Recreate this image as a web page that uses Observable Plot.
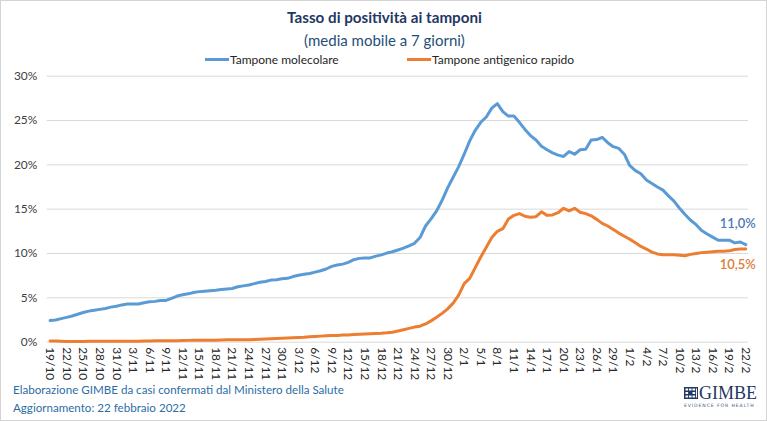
<!DOCTYPE html>
<html>
<head>
<meta charset="utf-8">
<script src="https://cdn.jsdelivr.net/npm/d3@7"></script>
<script src="https://cdn.jsdelivr.net/npm/@observablehq/plot@0.6"></script>
<style>
  html, body { margin: 0; padding: 0; background: #fff; }
  #card {
    position: relative; width: 767px; height: 421px; box-sizing: border-box;
    border: 1px solid #d4d4d4; background: #fff; overflow: hidden;
    font-family: Lato, "Open Sans", sans-serif;
  }
  #card svg.plot { position: absolute; left: -1px; top: -1px; }
  .title { position: absolute; left: 0; width: 767px; text-align: center; top: 7px;
    font-size: 15.2px; font-weight: bold; color: #1f3864; }
  .subtitle { position: absolute; left: 0; width: 767px; text-align: center; top: 30px;
    font-size: 15px; color: #1f4e79; }
  .legend { position: absolute; top: 51px; font-size: 12px; color: #262626; white-space: nowrap; }
  .legend span.sw { display: inline-block; width: 24px; height: 3px; vertical-align: middle; margin-right: 1px; position: relative; top: -1px; }
  .foot { position: absolute; left: 12px; font-size: 11.6px; color: #2e6da4; white-space: nowrap; }
  .logo { position: absolute; left: 681px; top: 380px; width: 80px; height: 30px; overflow: visible; }
</style>
</head>
<body>
<div id="card">
  <div class="title">Tasso di positività ai tamponi</div>
  <div class="subtitle">(media mobile a 7 giorni)</div>
  <div class="legend" style="left:204px"><span class="sw" style="background:#5b9bd5"></span>Tampone molecolare</div>
  <div class="legend" style="left:406px"><span class="sw" style="background:#ed7d31"></span>Tampone antigenico rapido</div>
  <div class="foot" style="top:382px">Elaborazione GIMBE da casi confermati dal Ministero della Salute</div>
  <div class="foot" style="top:400px">Aggiornamento: 22 febbraio 2022</div>
  <svg class="logo" viewBox="0 0 80 30">
    <rect x="2" y="6" width="14" height="12" fill="#1f3864"/>
    <g fill="#fff">
      <rect x="3.5" y="7.5" width="2.6" height="2"/><rect x="7" y="7.5" width="2.6" height="2"/><rect x="10.5" y="7.5" width="2.6" height="2"/>
      <rect x="3.5" y="11" width="2.6" height="2"/><rect x="10.5" y="11" width="2.6" height="2"/>
      <rect x="3.5" y="14.5" width="2.6" height="2"/><rect x="7" y="14.5" width="2.6" height="2"/><rect x="10.5" y="14.5" width="2.6" height="2"/>
      <rect x="14" y="7.5" width="1" height="9"/>
    </g>
    <text x="17" y="18" font-family="Liberation Serif, DejaVu Serif, serif" font-size="18" fill="#1f3864">GIMBE</text>
    <text x="2" y="25.5" font-family="DejaVu Sans, sans-serif" font-size="4.6" letter-spacing="0.9" fill="#3d5a80">EVIDENCE FOR HEALTH</text>
  </svg>
</div>
<script>
// Positivity rate, 7-day moving average, one value per day from 19/10/2021 to 22/2/2022
const molecolare = [
  2.44, 2.5, 2.65, 2.8, 2.95, 3.15, 3.35, 3.5, 3.6, 3.7,
  3.8, 3.95, 4.05, 4.2, 4.3, 4.3, 4.3, 4.45, 4.55, 4.6,
  4.7, 4.7, 4.95, 5.2, 5.35, 5.45, 5.6, 5.7, 5.75, 5.8,
  5.85, 5.95, 6.0, 6.05, 6.25, 6.35, 6.45, 6.6, 6.75, 6.85,
  7.0, 7.05, 7.15, 7.2, 7.4, 7.55, 7.65, 7.75, 7.9, 8.05,
  8.25, 8.55, 8.7, 8.8, 9.0, 9.3, 9.45, 9.5, 9.5, 9.7,
  9.85, 10.05, 10.2, 10.4, 10.6, 10.85, 11.15, 11.8, 13.1, 13.9,
  14.8, 16.0, 17.4, 18.6, 19.8, 21.2, 22.7, 23.9, 24.8, 25.4,
  26.4, 26.9, 26.0, 25.5, 25.5, 24.8, 24.0, 23.3, 22.8, 22.1,
  21.7, 21.35, 21.1, 20.95, 21.5, 21.2, 21.7, 21.75, 22.8, 22.85,
  23.1, 22.5, 22.05, 21.85, 21.2, 19.9, 19.35, 19.0, 18.3, 17.9,
  17.5, 17.15, 16.5, 15.9, 15.1, 14.4, 13.75, 13.25, 12.6, 12.2,
  11.85, 11.5, 11.5, 11.5, 11.2, 11.3, 11.0
];
const antigenico = [
  0.12, 0.12, 0.1, 0.08, 0.08, 0.08, 0.08, 0.09, 0.1, 0.1,
  0.1, 0.1, 0.1, 0.1, 0.1, 0.1, 0.1, 0.12, 0.14, 0.15,
  0.15, 0.15, 0.15, 0.16, 0.18, 0.2, 0.21, 0.22, 0.22, 0.22,
  0.22, 0.24, 0.26, 0.27, 0.28, 0.28, 0.28, 0.3, 0.32, 0.35,
  0.38, 0.42, 0.45, 0.47, 0.5, 0.52, 0.55, 0.6, 0.64, 0.68,
  0.72, 0.74, 0.76, 0.8, 0.82, 0.85, 0.88, 0.92, 0.95, 0.98,
  1.0, 1.05, 1.12, 1.25, 1.4, 1.55, 1.7, 1.8, 2.05, 2.4,
  2.8, 3.25, 3.75, 4.4, 5.3, 6.6, 7.2, 8.4, 9.6, 10.7,
  11.8, 12.5, 12.8, 13.9, 14.3, 14.5, 14.2, 14.1, 14.15, 14.7,
  14.3, 14.35, 14.6, 15.1, 14.8, 15.1, 14.65, 14.5, 14.25, 13.85,
  13.4, 13.1, 12.7, 12.3, 11.95, 11.6, 11.2, 10.8, 10.5, 10.15,
  9.95, 9.85, 9.85, 9.85, 9.8, 9.75, 9.9, 10.0, 10.1, 10.15,
  10.2, 10.25, 10.25, 10.3, 10.45, 10.5, 10.5
];
// Category labels shown every third day
const tickLabels = [
  "19/10", "22/10", "25/10", "28/10", "31/10", "3/11", "6/11", "9/11", "12/11", "15/11",
  "18/11", "21/11", "24/11", "27/11", "30/11", "3/12", "6/12", "9/12", "12/12", "15/12",
  "18/12", "21/12", "24/12", "27/12", "30/12", "2/1", "5/1", "8/1", "11/1", "14/1",
  "17/1", "20/1", "23/1", "26/1", "29/1", "1/2", "4/2", "7/2", "10/2", "13/2",
  "16/2", "19/2", "22/2"
];
const tickStep = 3;
const yTicks = [0, 5, 10, 15, 20, 25, 30];

const blue = "#5b9bd5", orange = "#ed7d31";
const n = molecolare.length;
const tickIdx = tickLabels.map((_, k) => k * tickStep);
const fmt = v => v.toFixed(1).replace(".", ",") + "%";

const lastMol = [{i: n - 1, v: molecolare[n - 1]}];
const lastAnt = [{i: n - 1, v: antigenico[n - 1]}];

const chart = Plot.plot({
  width: 768, height: 422,
  marginLeft: 47, marginRight: 17, marginTop: 76, marginBottom: 79,
  x: {domain: [-0.5, n - 0.5], label: null},
  y: {domain: [0, 30], label: null},
  style: {fontFamily: "Lato, 'Open Sans', sans-serif", background: "transparent", overflow: "visible"},
  marks: [
    Plot.gridY(yTicks, {stroke: "#d9d9d9", strokeOpacity: 1, strokeWidth: 1}),
    Plot.axisY(yTicks, {tickSize: 0, tickPadding: 10, label: null, tickFormat: d => d + "%", fontSize: 12, fill: "#404040"}),
    Plot.axisX(tickIdx, {tickSize: 0, tickPadding: 5, tickRotate: 90, label: null, fontSize: 12, fill: "#262626",
      tickFormat: i => tickLabels[i / tickStep]}),
    Plot.lineY(antigenico, {x: (d, i) => i, y: d => d, stroke: orange, strokeWidth: 3, strokeLinejoin: "round"}),
    Plot.lineY(molecolare, {x: (d, i) => i, y: d => d, stroke: blue, strokeWidth: 3, strokeLinejoin: "round"}),
    Plot.text(lastMol, {x: "i", y: "v", text: d => fmt(d.v), dx: 10, dy: -21, textAnchor: "end",
      fill: "#4a78b5", fontSize: 13, fontWeight: 600}),
    Plot.text(lastAnt, {x: "i", y: "v", text: d => fmt(d.v), dx: 10, dy: 16, textAnchor: "end",
      fill: "#e07a35", fontSize: 13, fontWeight: 600})
  ]
});
chart.classList.add("plot");
document.getElementById("card").appendChild(chart);
</script>
</body>
</html>
